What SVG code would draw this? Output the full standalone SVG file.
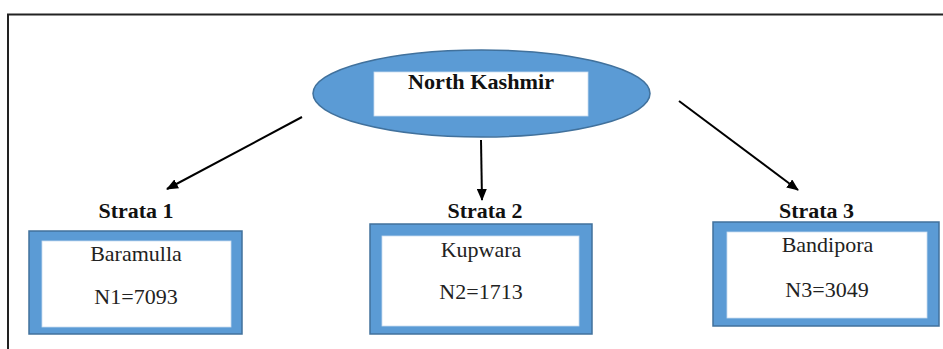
<svg xmlns="http://www.w3.org/2000/svg" width="943" height="349" viewBox="0 0 943 349">
  <defs>
    <marker id="arr" viewBox="0 0 12 10" refX="11" refY="5" markerWidth="12" markerHeight="10" markerUnits="userSpaceOnUse" orient="auto">
      <path d="M0,0 L12,5 L0,10 Z" fill="#000"/>
    </marker>
  </defs>
  <style>
    .frame { fill: none; stroke: #222; stroke-width: 2; }
    .blue { fill: #5B9BD5; stroke: #41719C; stroke-width: 1.5; }
    .inner { fill: #fff; stroke: #c9dcef; stroke-width: 0.8; }
    .conn { stroke: #000; stroke-width: 2; fill: none; marker-end: url(#arr); }
    .head { font-family: "Liberation Serif", "Times New Roman", "DejaVu Serif", serif; font-weight: bold; font-size: 20px; fill: #111; text-anchor: middle; }
    .body { font-family: "Liberation Serif", "Times New Roman", "DejaVu Serif", serif; font-size: 22px; fill: #222; text-anchor: middle; }
  </style>
  <rect width="943" height="349" fill="#fff"/>
  <path class="frame" d="M8,352 L8,14.5 L946,14.5"/>

  <g id="north-kashmir">
    <ellipse class="blue" cx="481.5" cy="93.5" rx="168.5" ry="43.5"/>
    <rect class="inner" x="374" y="72" width="214" height="44"/>
    <text class="head" x="481" y="89" textLength="146" lengthAdjust="spacingAndGlyphs">North Kashmir</text>
  </g>

  <g id="connectors">
    <line class="conn" x1="302" y1="117" x2="167" y2="189"/>
    <line class="conn" x1="481" y1="140" x2="482" y2="200"/>
    <line class="conn" x1="679" y1="101" x2="798" y2="190"/>
  </g>

  <g id="strata1">
    <text class="head" x="136" y="218" textLength="75" lengthAdjust="spacingAndGlyphs">Strata 1</text>
    <rect class="blue" x="29" y="231" width="213" height="103"/>
    <rect class="inner" x="42" y="241" width="189" height="86"/>
    <text class="body" x="136" y="261">Baramulla</text>
    <text class="body" x="136" y="304">N1=7093</text>
  </g>

  <g id="strata2">
    <text class="head" x="485" y="218" textLength="75" lengthAdjust="spacingAndGlyphs">Strata 2</text>
    <rect class="blue" x="370" y="224" width="222" height="110"/>
    <rect class="inner" x="382" y="236" width="197" height="90"/>
    <text class="body" x="481" y="257">Kupwara</text>
    <text class="body" x="481" y="299">N2=1713</text>
  </g>

  <g id="strata3">
    <text class="head" x="816.5" y="218" textLength="75" lengthAdjust="spacingAndGlyphs">Strata 3</text>
    <rect class="blue" x="713" y="222" width="226" height="104"/>
    <rect class="inner" x="727" y="232" width="200" height="86"/>
    <text class="body" x="827.5" y="252">Bandipora</text>
    <text class="body" x="827" y="297">N3=3049</text>
  </g>
</svg>
